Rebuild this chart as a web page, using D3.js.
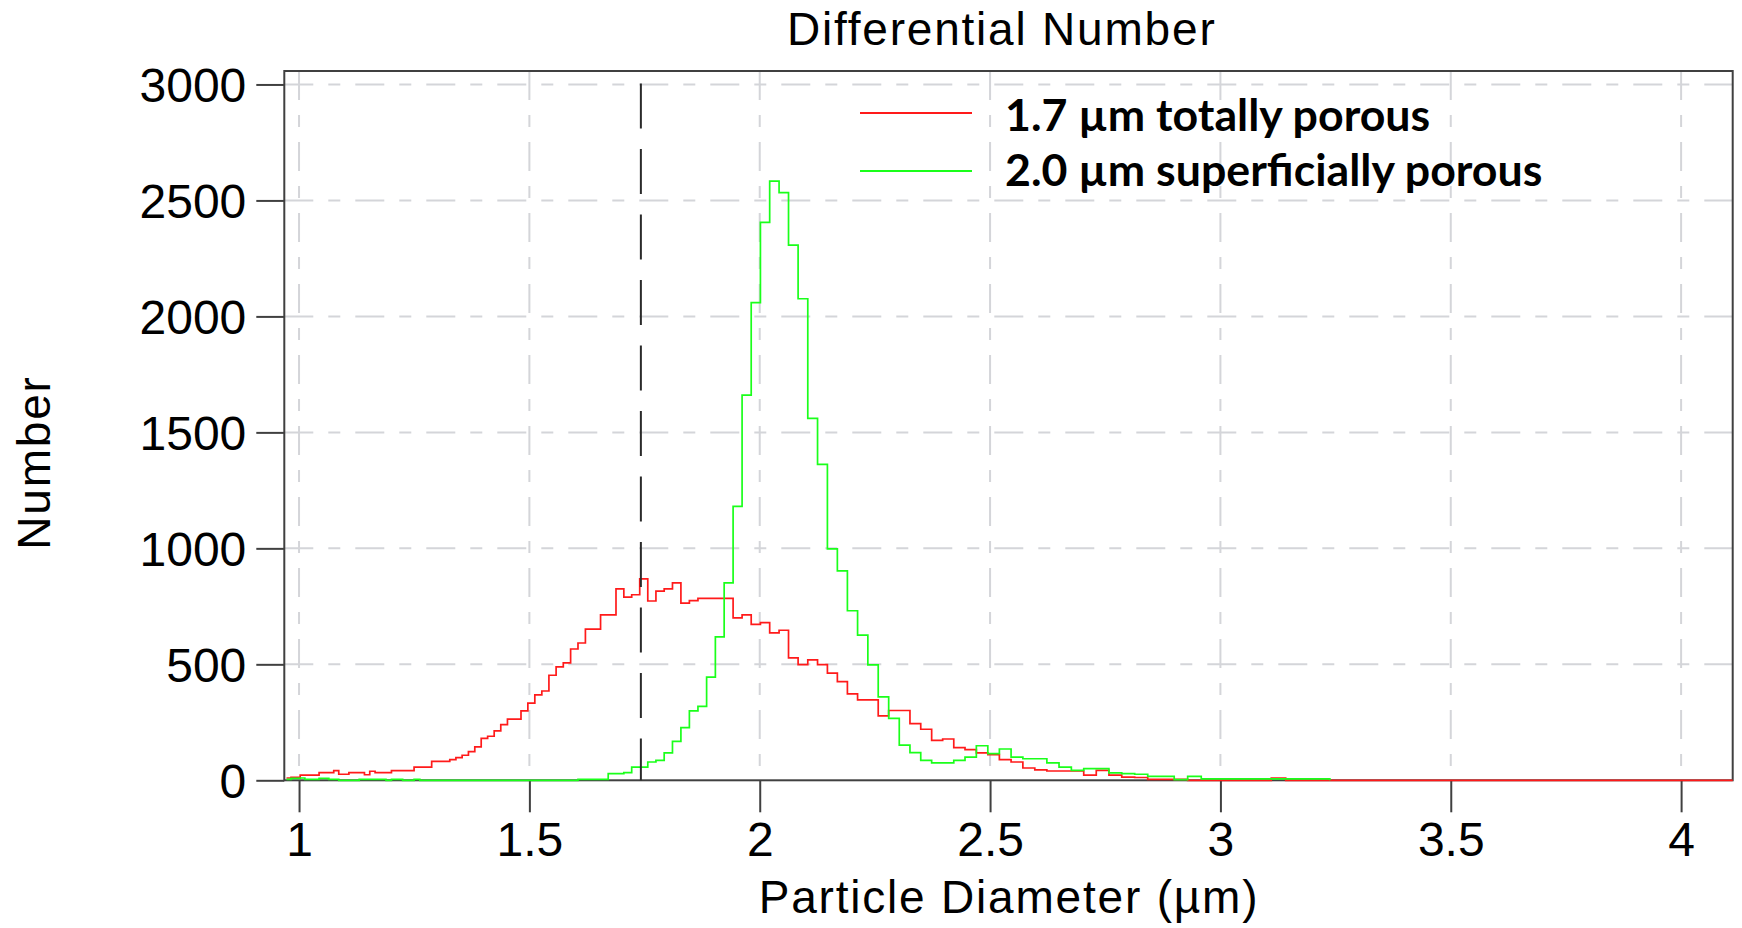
<!DOCTYPE html>
<html>
<head>
<meta charset="utf-8">
<title>Differential Number</title>
<script src="https://cdn.jsdelivr.net/npm/d3@7"></script>
<style>
  html, body { margin: 0; padding: 0; background: #fff; }
  svg { display: block; }
</style>
</head>
<body>
<div id="chart"></div>
<script>
// channel edges in µm (log spaced)
const binEdges = [
  0.9728, 0.9826, 0.9925, 1.0025, 1.0126, 1.0228, 1.0331, 1.0435, 1.0540, 1.0646,
  1.0753, 1.0862, 1.0971, 1.1082, 1.1193, 1.1306, 1.1420, 1.1535, 1.1651, 1.1768,
  1.1887, 1.2006, 1.2127, 1.2249, 1.2373, 1.2497, 1.2623, 1.2750, 1.2879, 1.3008,
  1.3140, 1.3272, 1.3405, 1.3540, 1.3677, 1.3815, 1.3954, 1.4094, 1.4236, 1.4379,
  1.4524, 1.4670, 1.4818, 1.4967, 1.5118, 1.5270, 1.5424, 1.5580, 1.5736, 1.5895,
  1.6055, 1.6216, 1.6380, 1.6545, 1.6711, 1.6880, 1.7050, 1.7221, 1.7395, 1.7570,
  1.7747, 1.7926, 1.8106, 1.8289, 1.8473, 1.8659, 1.8847, 1.9037, 1.9228, 1.9422,
  1.9617, 1.9815, 2.0015, 2.0216, 2.0420, 2.0625, 2.0833, 2.1043, 2.1255, 2.1469,
  2.1685, 2.1903, 2.2124, 2.2347, 2.2572, 2.2799, 2.3029, 2.3261, 2.3495, 2.3732,
  2.3971, 2.4212, 2.4456, 2.4702, 2.4951, 2.5202, 2.5456, 2.5712, 2.5971, 2.6233,
  2.6497, 2.6764, 2.7033, 2.7305, 2.7580, 2.7858, 2.8139, 2.8422, 2.8708, 2.8997,
  2.9289, 2.9584, 2.9882, 3.0183, 3.0487, 3.0794, 3.1104, 3.1417, 3.1734, 3.2053,
  3.2376
];

// counts per channel
const totallyPorous = [
  10, 13, 13, 22, 22, 22, 22, 33, 33, 33,
  42, 26, 26, 33, 33, 33, 24, 39, 33, 33,
  33, 42, 42, 42, 42, 57, 57, 57, 82, 82,
  82, 89, 98, 108, 124, 144, 181, 190, 213, 240,
  264, 264, 299, 333, 368, 385, 453, 489, 506, 566,
  592, 652, 652, 713, 713, 825, 790, 800, 868, 773,
  816, 825, 851, 764, 775, 784, 784, 784, 784, 700,
  713, 672, 680, 636, 647, 528, 499, 519, 499, 462,
  425, 373, 347, 347, 278, 301, 301, 244, 220, 172,
  178, 141, 132, 118, 111, 89, 79, 53, 45, 40,
  40, 40, 22, 43, 22, 14, 12, 4, 4, 4,
  0, 0, 0, 0, 0, 0, 9, 0, 0, 0
];

const superficiallyPorous = [
  4, 8, 8, 10, 4, 4, 4, 8, 8, 4,
  4, 0, 0, 0, 0, 4, 4, 4, 4, 4,
  0, 4, 4, 0, 0, 4, 0, 0, 0, 0,
  0, 0, 0, 0, 0, 0, 0, 0, 0, 0,
  0, 0, 0, 0, 0, 0, 0, 0, 0, 0,
  4, 4, 4, 4, 29, 29, 33, 57, 57, 79,
  86, 118, 168, 227, 299, 319, 445, 618, 851, 1181,
  1661, 2059, 2405, 2583, 2534, 2307, 2076, 1560, 1362, 998,
  903, 731, 626, 498, 360, 267, 152, 119, 86, 75,
  75, 86, 100, 149, 115, 135, 100, 93, 93, 75,
  57, 43, 50, 50, 32, 29, 26, 17, 17, 3,
  17, 6, 6, 6, 6, 6, 6, 6, 6, 6
];

const seriesNames = ["1.7 µm totally porous", "2.0 µm superficially porous"];
const seriesColors = ["#ff1a1a", "#1aff1a"];
const xTicks = [1, 1.5, 2, 2.5, 3, 3.5, 4];
const yTicks = [0, 500, 1000, 1500, 2000, 2500, 3000];
const markerDiameter = 1.742;

const width = 1742;
const height = 928;
const margin = {top: 71, right: 9.3, bottom: 147.7, left: 284.3};

const axisFont = "'Liberation Sans', Arial, sans-serif";
const frameColor = "#404040";

const svg = d3.select("#chart")
  .append("svg")
    .attr("width", width)
    .attr("height", height);

svg.append("rect")
  .attr("width", width)
  .attr("height", height)
  .attr("fill", "#fff");

const x = d3.scaleLinear()
  .domain([0.968, 4.112])
  .range([margin.left, width - margin.right]);

const y = d3.scaleLinear()
  .domain([0, 3058])
  .range([height - margin.bottom, margin.top]);

// dash-dot grid
const grid = svg.append("g")
  .attr("fill", "none")
  .attr("stroke", "#d4d5d9")
  .attr("stroke-width", 2)
  .attr("stroke-dasharray", "29,15,12,15");

grid.selectAll("line.vgrid")
  .data(xTicks)
  .join("line")
    .attr("class", "vgrid")
    .attr("x1", d => x(d))
    .attr("x2", d => x(d))
    .attr("y1", y.range()[1])
    .attr("y2", y.range()[0]);

grid.selectAll("line.hgrid")
  .data(yTicks.filter(d => d > 0))
  .join("line")
    .attr("class", "hgrid")
    .attr("x1", x.range()[0])
    .attr("x2", x.range()[1])
    .attr("y1", d => y(d))
    .attr("y2", d => y(d));

// frame
svg.append("rect")
  .attr("x", x.range()[0])
  .attr("y", y.range()[1])
  .attr("width", x.range()[1] - x.range()[0])
  .attr("height", y.range()[0] - y.range()[1])
  .attr("fill", "none")
  .attr("stroke", frameColor)
  .attr("stroke-width", 2);

const xAxis = g => g
  .attr("transform", `translate(0,${y(0)})`)
  .call(d3.axisBottom(x).tickValues(xTicks).tickSize(32).tickPadding(9.6).tickFormat(d3.format("")))
  .call(g => g.select(".domain").remove())
  .call(g => g.selectAll(".tick line").attr("stroke", frameColor).attr("stroke-width", 2))
  .call(g => g.selectAll(".tick text")
    .attr("fill", "#000")
    .attr("font-size", 48)
    .attr("font-family", axisFont));

const yAxis = g => g
  .attr("transform", `translate(${x.range()[0]},0)`)
  .call(d3.axisLeft(y).tickValues(yTicks).tickSize(28).tickPadding(10).tickFormat(d3.format("d")))
  .call(g => g.select(".domain").remove())
  .call(g => g.selectAll(".tick line").attr("stroke", frameColor).attr("stroke-width", 2))
  .call(g => g.selectAll(".tick text")
    .attr("fill", "#000")
    .attr("dy", "0.36em")
    .attr("font-size", 48)
    .attr("font-family", axisFont));

svg.append("g").call(xAxis);
svg.append("g").call(yAxis);

// step histograms
const line = d3.line()
  .x(d => x(d[0]))
  .y(d => y(d[1]))
  .curve(d3.curveStepAfter);

const toSteps = vals => binEdges.slice(0, vals.length)
  .map((e, i) => [e, vals[i]])
  .concat([[binEdges[vals.length], 0]]);

const series = [
  toSteps(totallyPorous).concat([[x.domain()[1], 0]]),
  toSteps(superficiallyPorous)
];

svg.append("g")
  .attr("fill", "none")
  .attr("stroke-width", 1.7)
  .attr("stroke-linejoin", "miter")
  .selectAll("path")
  .data(series)
  .join("path")
    .attr("stroke", (d, i) => seriesColors[i])
    .attr("d", line);

// vertical marker
svg.append("line")
  .attr("x1", x(markerDiameter))
  .attr("x2", x(markerDiameter))
  .attr("y1", y(0))
  .attr("y2", y.range()[1])
  .attr("stroke", "#2a2a2a")
  .attr("stroke-width", 2)
  .attr("stroke-dasharray", "45,20.5")
  .attr("stroke-dashoffset", 3.3);

// titles
svg.append("text")
  .attr("x", 1001.7)
  .attr("y", 45)
  .attr("text-anchor", "middle")
  .attr("font-family", axisFont)
  .attr("font-size", 46)
  .attr("letter-spacing", 1.8)
  .attr("fill", "#000")
  .text("Differential Number");

svg.append("text")
  .attr("x", 1009)
  .attr("y", 913)
  .attr("text-anchor", "middle")
  .attr("font-family", axisFont)
  .attr("font-size", 46)
  .attr("letter-spacing", 1.8)
  .attr("fill", "#000")
  .text("Particle Diameter (µm)");

svg.append("text")
  .attr("transform", "translate(50,462.5) rotate(-90)")
  .attr("text-anchor", "middle")
  .attr("font-family", axisFont)
  .attr("font-size", 46)
  .attr("letter-spacing", 1.8)
  .attr("fill", "#000")
  .text("Number");

// legend
const legend = svg.append("g")
  .selectAll("g")
  .data(seriesNames)
  .join("g")
    .attr("transform", (d, i) => `translate(860,${[113, 171][i]})`);

legend.append("line")
  .attr("x1", 0)
  .attr("x2", 112)
  .attr("stroke", (d, i) => seriesColors[i])
  .attr("stroke-width", 2);

legend.append("text")
  .attr("x", 145)
  .attr("y", (d, i) => [18, 15][i])
  .attr("font-family", "Lato, 'Open Sans', sans-serif")
  .attr("font-weight", "bold")
  .attr("font-size", 44.7)
  .attr("fill", "#000")
  .text(d => d);
</script>
</body>
</html>
